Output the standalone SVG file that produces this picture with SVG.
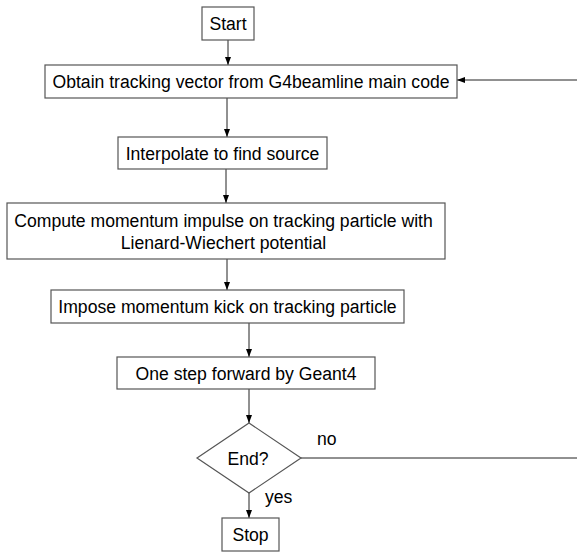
<svg xmlns="http://www.w3.org/2000/svg" width="577" height="552" viewBox="0 0 577 552">
<style>
.box{fill:#fff;stroke:#555;stroke-width:1.2}
.t{font-family:"Liberation Sans",Arial,sans-serif;font-size:17.6px;fill:#000}
.c{text-anchor:middle}
.ln{stroke:#222;stroke-width:1;fill:none}
</style>
<defs>
<marker id="ah" viewBox="0 0 8 8" refX="8" refY="4" markerWidth="8" markerHeight="8" markerUnits="userSpaceOnUse" orient="auto">
<path d="M0,1 L8,4 L0,7 Z" fill="#000"/>
</marker>
</defs>
<rect width="577" height="552" fill="#fff"/>
<g id="connectors">
<line class="ln" x1="228" y1="40" x2="228" y2="65" marker-end="url(#ah)"/>
<line class="ln" x1="577" y1="80" x2="457" y2="80" marker-end="url(#ah)"/>
<line class="ln" x1="227" y1="98" x2="227" y2="137" marker-end="url(#ah)"/>
<line class="ln" x1="226" y1="169" x2="226" y2="203" marker-end="url(#ah)"/>
<line class="ln" x1="227" y1="259" x2="227" y2="290" marker-end="url(#ah)"/>
<line class="ln" x1="249" y1="323" x2="249" y2="357" marker-end="url(#ah)"/>
<line class="ln" x1="249" y1="389" x2="249" y2="423" marker-end="url(#ah)"/>
<line class="ln" x1="301" y1="458" x2="577" y2="458"/>
<line class="ln" x1="249" y1="493" x2="249" y2="518" marker-end="url(#ah)"/>
<text class="t" x="317" y="445">no</text>
<text class="t" x="265" y="503">yes</text>
</g>
<g id="start">
<rect class="box" x="202" y="7" width="52" height="33"/>
<text class="t c" x="228" y="30">Start</text>
</g>
<g id="obtain">
<rect class="box" x="45" y="65" width="412" height="33"/>
<text class="t c" x="251" y="88">Obtain tracking vector from G4beamline main code</text>
</g>
<g id="interpolate">
<rect class="box" x="118" y="137" width="209" height="32"/>
<text class="t c" x="222.5" y="160">Interpolate to find source</text>
</g>
<g id="compute">
<rect class="box" x="7" y="203" width="438" height="56"/>
<text class="t c" x="223.5" y="227">Compute momentum impulse on tracking particle with</text>
<text class="t c" x="223.5" y="249">Lienard-Wiechert potential</text>
</g>
<g id="impose">
<rect class="box" x="51" y="290" width="353" height="33"/>
<text class="t c" x="227.5" y="313">Impose momentum kick on tracking particle</text>
</g>
<g id="step">
<rect class="box" x="117" y="357" width="258" height="32"/>
<text class="t c" x="246" y="380">One step forward by Geant4</text>
</g>
<g id="end">
<polygon class="box" points="249,423 301,458 249,493 197,458"/>
<text class="t c" x="248" y="465">End?</text>
</g>
<g id="stop">
<rect class="box" x="222" y="518" width="57" height="33"/>
<text class="t c" x="250.5" y="541">Stop</text>
</g>
</svg>
